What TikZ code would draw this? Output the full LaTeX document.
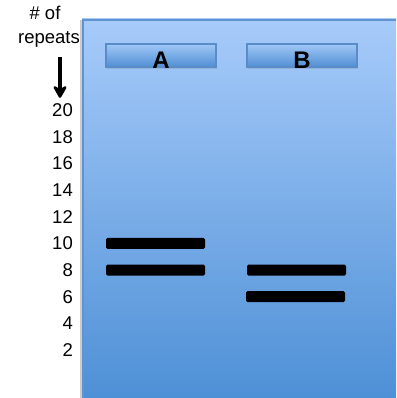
\documentclass[tikz,border=0pt]{standalone}
\usepackage{fontspec}
\setmainfont{Liberation Sans}
\usetikzlibrary{calc,arrows.meta,shadows}
\definecolor{geltop}{RGB}{167,203,250}
\definecolor{gelbot}{RGB}{78,144,214}
\definecolor{gelline}{RGB}{96,148,208}
\definecolor{welltop}{RGB}{160,200,246}
\definecolor{wellbot}{RGB}{80,142,212}
\definecolor{wellline}{RGB}{90,140,200}

\begin{document}
\begin{tikzpicture}[x=1pt,y=-1pt]
    \tikzstyle{num}=[anchor=east,inner sep=0,font=\fontsize{18.5}{20}\selectfont]
    \tikzstyle{well}=[draw=wellline,line width=1.3pt,top color=welltop,bottom color=wellbot,minimum width=110,minimum height=23,inner sep=0,drop shadow={opacity=.25,shadow xshift=1pt,shadow yshift=-2pt}]
    \tikzstyle{welltext}=[inner sep=0,font=\fontsize{24}{25}\selectfont\bfseries]
    \tikzstyle{band}=[fill=black,rounded corners=1.5,minimum width=99,minimum height=11,inner sep=0]

    \useasboundingbox (0,0) rectangle (396,398);

    % gel
    \fill[gray!40] (80,20) rectangle (82,398);
    \fill[top color=geltop,bottom color=gelbot] (82,19) rectangle (396,398);
    \draw[gelline,line width=2] (83,398) -- (83,20) -- (396,20);

    % wells
    \node(wA)[well] at (161,55.5) {};
    \node(wB)[well] at (302,55.5) {};
    \node[welltext] at ($(wA)+(0,4.5)$) {A};
    \node[welltext] at ($(wB)+(0,4.5)$) {B};

    % size scale
    \foreach \n in {2,4,...,20}
        \node(n\n)[num] at (73,{376.7-13.33*\n}) {\n};
    \node(hash)[font=\fontsize{18.5}{20}\selectfont] at (45,13) {\# of};
    \node(rep)[font=\fontsize{18.5}{20}\selectfont] at (49,39) {repeats};
    \coordinate (arrtop) at (60,57);
    \draw[-{Stealth[width=17pt,length=15pt,inset=5pt,round]},line width=3.2pt] (arrtop) -- ($(arrtop |- n20.north)+(0,-5.5)$);

    % bands
    \node(a10)[band] at (155.5,{376.7-13.33*10}) {};
    \node(a8)[band] at (155.5,{376.7-13.33*8}) {};
    \node(b8)[band] at (296.5,{376.7-13.33*8}) {};
    \node(b6)[band] at (295.5,{376.7-13.33*6}) {};
\end{tikzpicture}
\end{document}
